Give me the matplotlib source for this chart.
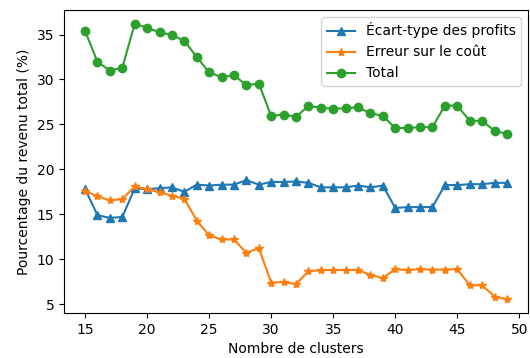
import matplotlib
matplotlib.use("Agg")
import matplotlib.pyplot as plt

clusters = list(range(15, 50))
ecart_type = [17.8, 14.9, 14.6, 14.7, 17.9, 17.8, 17.9, 18.0, 17.5, 18.3, 18.2, 18.3, 18.3, 18.8, 18.3,
              18.6, 18.6, 18.65, 18.5, 18.0, 18.0, 18.0, 18.2, 18.0, 18.2, 15.7, 15.8, 15.8, 15.8,
              18.25, 18.25, 18.35, 18.35, 18.5, 18.5]
erreur_cout = [17.6, 17.0, 16.55, 16.7, 18.1, 17.8, 17.45, 17.05, 16.75, 14.3, 12.65, 12.2, 12.2, 10.7, 11.25,
               7.4, 7.45, 7.25, 8.65, 8.8, 8.8, 8.8, 8.8, 8.25, 7.9, 8.9, 8.8, 8.9, 8.85,
               8.85, 8.9, 7.1, 7.1, 5.85, 5.55]
total = [35.4, 31.95, 31.0, 31.3, 36.2, 35.75, 35.25, 34.95, 34.3, 32.5, 30.8, 30.25, 30.5, 29.35, 29.55,
         25.95, 26.1, 25.85, 27.05, 26.85, 26.75, 26.8, 26.9, 26.25, 25.95, 24.6, 24.6, 24.7, 24.7,
         27.1, 27.1, 25.4, 25.4, 24.3, 23.95]

fig = plt.figure(figsize=(5.30, 3.58), dpi=100)
ax = fig.add_axes([64/530, 1-313/358, (528-64)/530, (313-10)/358])
ax.plot(clusters, ecart_type, marker='^', label='Écart-type des profits')
ax.plot(clusters, erreur_cout, marker='*', label='Erreur sur le coût')
ax.plot(clusters, total, marker='o', label='Total')
ax.set_xlabel('Nombre de clusters')
ax.set_ylabel('Pourcentage du revenu total (%)')
ax.legend(loc='upper right')
fig.savefig('out.png', dpi=100)
